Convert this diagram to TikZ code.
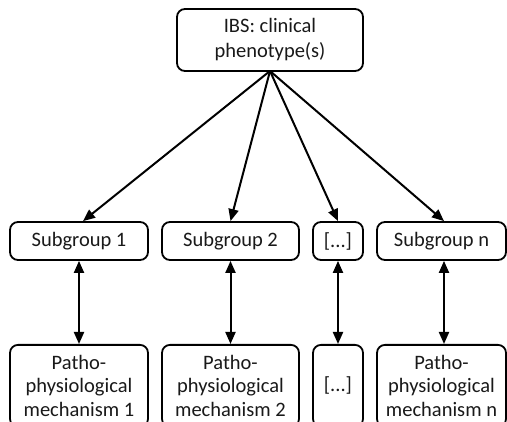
\documentclass[tikz,border=0pt]{standalone}
\usepackage{fontspec}
\setmainfont{Carlito}
\usetikzlibrary{arrows.meta}
\begin{document}
\begin{tikzpicture}[x=1pt,y=-1pt,
  box/.style={draw=black, line width=1.8pt, rounded corners=8pt, inner sep=0pt,
    align=center, text=black!90, font=\fontsize{20.5}{23.5}\selectfont},
  topbox/.style={box, font=\fontsize{20.5}{25}\selectfont},
  arr/.style={line width=2pt, -{Triangle[length=12pt,width=10pt]}},
  darr/.style={line width=2pt, {Triangle[length=12pt,width=10pt]}-{Triangle[length=12pt,width=10pt]}}]
\path[use as bounding box, clip] (0,0) rectangle (507,422);

\node[topbox, minimum width=186pt, minimum height=62pt] (top) at (270,40) {IBS: clinical\\phenotype(s)};
\coordinate (src) at (270,71);

\node[box, minimum width=138pt, minimum height=38pt] (s1) at (79,241) {Subgroup 1};
\node[box, minimum width=137pt, minimum height=38pt] (s2) at (230.5,241) {Subgroup 2};
\node[box, minimum width=50pt, minimum height=38pt] (s3) at (338,241) {[...]};
\node[box, minimum width=129pt, minimum height=38pt] (sn) at (441.5,241) {Subgroup n};

\node[box, anchor=north, minimum width=138pt, minimum height=82pt] (b1) at (79,344) {Patho-\\physiological\\mechanism 1};
\node[box, anchor=north, minimum width=137pt, minimum height=82pt] (b2) at (230.5,344) {Patho-\\physiological\\mechanism 2};
\node[box, anchor=north, minimum width=50pt, minimum height=82pt] (b3) at (338,344) {[...]};
\node[box, anchor=north, minimum width=129pt, minimum height=82pt] (bn) at (441.5,344) {Patho-\\physiological\\mechanism n};

\draw[arr] (src) -- ([xshift=4pt]s1.north);
\draw[arr] (src) -- (s2.north);
\draw[arr] (src) -- (s3.north);
\draw[arr] (src) -- ([xshift=2.5pt]sn.north);

\draw[darr] (s1) -- (b1);
\draw[darr] (s2) -- (b2);
\draw[darr] (s3) -- (b3);
\draw[darr] ([xshift=2.5pt]sn.south) -- ([xshift=2.5pt]bn.north);
\end{tikzpicture}
\end{document}
